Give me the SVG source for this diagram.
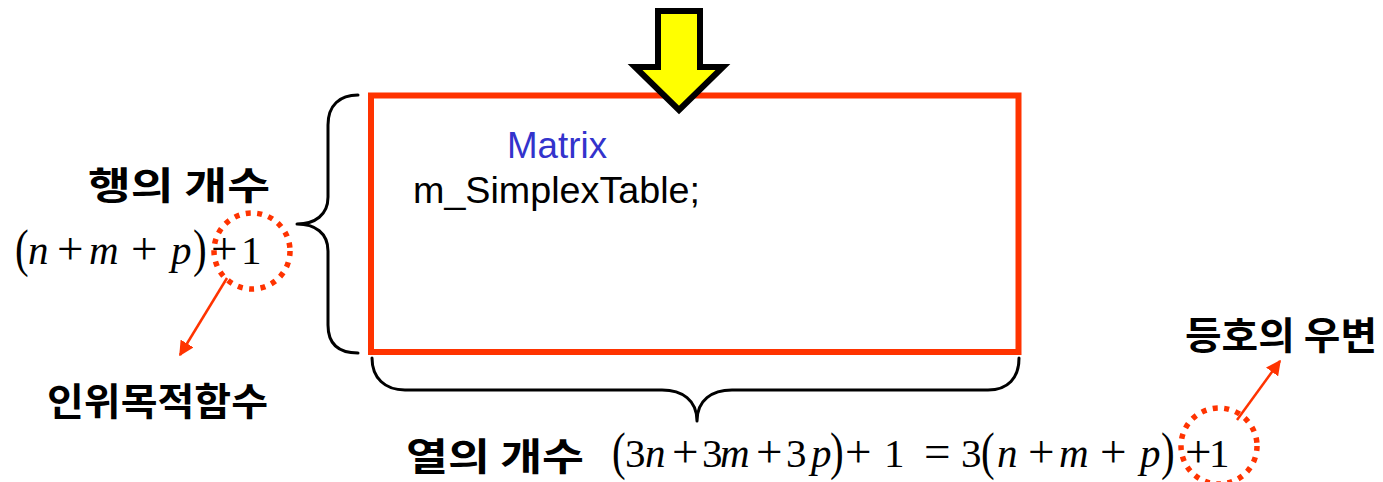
<svg xmlns="http://www.w3.org/2000/svg" width="1383" height="482" viewBox="0 0 1383 482">
<style>
.ko{font-family:"Noto Sans CJK KR","Noto Sans",sans-serif;font-weight:bold;font-size:38px;fill:#000}
.code{font-family:"Liberation Sans",Arial,sans-serif;font-size:36px}
.m{font-family:"Liberation Serif","Times New Roman",serif;font-size:41px;fill:#000}
.i{font-style:italic}
.op{font-size:47px}
.brace{fill:none;stroke:#000;stroke-width:3;stroke-linecap:round;stroke-linejoin:round}
.dot{fill:none;stroke:#FF3300;stroke-width:5.5;stroke-dasharray:5 6.5}
.ln{stroke:#FF3300;stroke-width:2.5;fill:none}
</style>
<defs>
<marker id="ah" viewBox="0 0 10 10" refX="9" refY="5" markerWidth="6" markerHeight="6" markerUnits="strokeWidth" orient="auto">
<path d="M0,0 L10,5 L0,10 z" fill="#FF3300"/>
</marker>
</defs>
<rect width="1383" height="482" fill="#fff"/>

<g id="table">
<rect x="371" y="95.5" width="647.5" height="256.5" fill="#fff" stroke="#FF3300" stroke-width="6"/>
<text class="code" x="507" y="158" fill="#3333CC" textLength="100" lengthAdjust="spacingAndGlyphs">Matrix</text>
<text class="code" x="413" y="203" fill="#000" textLength="287" lengthAdjust="spacingAndGlyphs">m_SimplexTable;</text>
</g>

<g id="arrow-down">
<path d="M658,11 L700,11 L700,67 L723,67 L679,110 L635,67 L658,67 Z" fill="#FFFF00" stroke="#000" stroke-width="6" stroke-linejoin="miter"/>
</g>

<g id="braces">
<path class="brace" d="M358,95 C340,95 328,105 328,125 L328,197 C328,215 315,224 297,224 C315,224 328,233 328,251 L328,325 C328,345 340,353 358,353"/>
<path class="brace" d="M372,358 C372,378 385,390 405,390 L662,390 C682,390 697,400 697,421 C697,400 712,390 732,390 L988,390 C1008,390 1019,378 1019,358"/>
</g>

<g id="row-label">
<text class="ko" x="88" y="199" textLength="182" lengthAdjust="spacingAndGlyphs">행의 개수</text>
</g>

<g id="row-formula">
<text class="m" transform="translate(15,266) scale(1,1.3)" x="0" y="0">(</text>
<text class="m" transform="translate(193,266) scale(1,1.3)" x="0" y="0">)</text>
<text class="m" y="264"><tspan class="i" x="28">n</tspan><tspan class="op" x="57">+</tspan><tspan class="i" x="89">m</tspan><tspan class="op" x="131">+</tspan><tspan class="i" x="171">p</tspan><tspan class="op" x="211">+</tspan><tspan x="241">1</tspan></text>
<circle class="dot" cx="252" cy="251" r="38"/>
</g>

<g id="col-label">
<text class="ko" x="406" y="470" textLength="178" lengthAdjust="spacingAndGlyphs">열의 개수</text>
</g>

<g id="col-formula">
<text class="m" transform="translate(612,469) scale(1,1.3)" x="0" y="0">(</text>
<text class="m" transform="translate(830,469) scale(1,1.3)" x="0" y="0">)</text>
<text class="m" transform="translate(981,469) scale(1,1.3)" x="0" y="0">(</text>
<text class="m" transform="translate(1161,469) scale(1,1.3)" x="0" y="0">)</text>
<text class="m" y="467"><tspan x="625">3</tspan><tspan class="i" x="645">n</tspan><tspan class="op" x="672">+</tspan><tspan x="702">3</tspan><tspan class="i" x="720">m</tspan><tspan class="op" x="756">+</tspan><tspan x="786">3</tspan><tspan class="i" x="811">p</tspan><tspan class="op" x="845">+</tspan><tspan x="884">1</tspan><tspan class="op" x="924">=</tspan><tspan x="961">3</tspan><tspan class="i" x="997">n</tspan><tspan class="op" x="1028">+</tspan><tspan class="i" x="1059">m</tspan><tspan class="op" x="1100">+</tspan><tspan class="i" x="1140">p</tspan><tspan class="op" x="1185">+</tspan><tspan x="1209">1</tspan></text>
<circle class="dot" cx="1219" cy="446" r="38"/>
</g>

<g id="artificial-label">
<text class="ko" x="47" y="415" textLength="221" lengthAdjust="spacingAndGlyphs">인위목적함수</text>
</g>

<g id="rhs-label">
<text class="ko" x="1185" y="349" font-size="36" textLength="192" lengthAdjust="spacingAndGlyphs">등호의 우변</text>
</g>

<g id="connectors">
<line class="ln" x1="227" y1="278" x2="180" y2="355" marker-end="url(#ah)"/>
<line class="ln" x1="1237" y1="420" x2="1280" y2="361" marker-end="url(#ah)"/>
</g>
</svg>
